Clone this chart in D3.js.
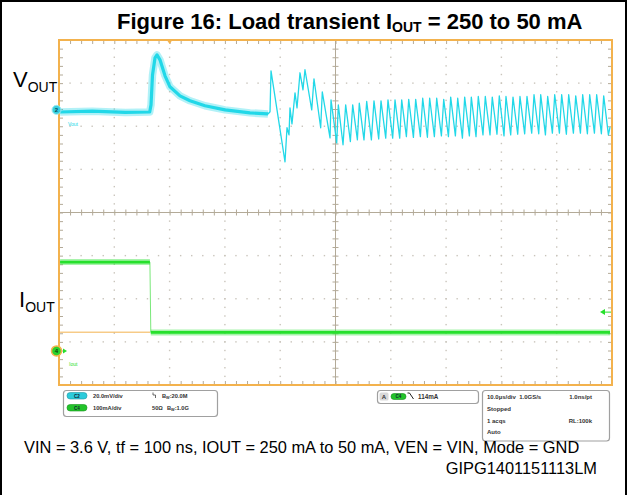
<!DOCTYPE html>
<html><head><meta charset="utf-8">
<script src="https://cdn.jsdelivr.net/npm/d3@7/dist/d3.min.js"></script>
<style>
body{margin:0;background:#fff}
svg{display:block}
text{font-family:Arial,"Liberation Sans",sans-serif}
</style>
</head><body>
<svg id="c" width="627" height="495"></svg>
<script>
// ---------------- DATA ----------------
// time axis in microseconds (trigger at 0), 10 us/div, 10 divisions
const timeRangeUs = [-20, 80];
const timeMinorStepUs = 2;
const timeMajorStepUs = 10;
// channel settings
const ch2mVperDiv = 20;      // VOUT channel
const ch2OffsetDiv = 2.38;   // marker position in divisions above centre
const ch4mAperDiv = 100;     // IOUT channel
const ch4OffsetDiv = -3.21;
const triggerLevelmA = 90;
const refLevelmA = 43.5;
const refLineTimes = [-19.8, -3.54];

// VOUT (mV, relative to channel marker) – noisy part before ringing
const voutSettled = [
  [-19.8,-1.0],[-14,-0.6],[-8,-1.2],[-3.6,-1.0],
  [-3.36,2.3],[-3.09,16.2],[-2.64,24.1],[-2.28,25.5],[-1.74,23.2],[-0.83,15.8],
  [0.07,10.7],[1.88,6.5],[3.69,4.2],[6.40,1.9],[10.02,0.0],[14.54,-1.4],[17.79,-1.9]
];
// VOUT ringing onset
const voutRinging = [
  [18.16,-0.9],[18.34,18.1],[20.87,-24.1],[21.23,-8.3],[21.59,-11.6],[21.77,0.9],
  [22.13,-6.5],[22.68,7.9],[23.04,0.9],[23.58,17.2],[24.12,9.3],[24.48,18.6],
  [25.70,0.0],[26.11,14.4],[27.32,-8.3],[27.61,8.3],[29.01,-13.0],[29.19,4.6],[30.22,-15.3]
];
// VOUT ripple: peaks and troughs
const ripplePeakT = [30.51,31.84,33.11,34.30,35.64,36.96,38.23,39.49,40.76,41.97,43.24,44.50,45.77,47.03,48.30,49.57,50.83,52.10,53.36,54.56,55.82,57.09,58.35,59.62,60.83,62.10,63.36,64.63,65.90,67.11,68.37,69.64,70.90,72.17,73.44,74.70,75.97,77.23,78.50];
const ripplePeakV = [2.3,2.3,2.3,3.1,3.9,4.2,4.2,4.6,4.6,4.6,4.9,4.9,5.4,5.4,5.4,4.9,5.9,5.4,5.9,5.9,6.2,6.2,5.9,6.5,6.2,5.9,6.2,6.2,7.0,7.0,6.2,7.0,7.0,7.0,6.5,7.0,7.0,7.0,6.5];
const rippleTroughT = [31.36,32.69,33.96,35.15,36.49,37.81,39.08,40.34,41.61,42.82,44.09,45.35,46.62,47.88,49.15,50.42,51.68,52.95,54.21,55.41,56.67,57.94,59.20,60.47,61.68,62.95,64.21,65.48,66.75,67.96,69.22,70.49,71.75,73.02,74.29,75.55,76.82,78.08,79.35];
const rippleTroughV = [-16.2,-14.7,-13.9,-13.9,-13.9,-13.5,-13.1,-13.1,-13.1,-12.4,-12.8,-12.4,-12.7,-12.4,-12.1,-12.4,-12.1,-13.1,-12.1,-12.4,-11.6,-11.6,-11.3,-12.1,-11.6,-11.3,-11.1,-10.8,-11.1,-11.6,-10.8,-10.8,-11.3,-10.8,-10.8,-11.1,-10.8,-11.1,-11.6];
const voutEnd = [79.64,-8.0];

// IOUT (mA)
const ioutHigh = [[-19.8,206],[-3.56,206]];
const ioutLow = [[-3.40,43],[79.64,43]];

// texts
const titleMain = "Figure 16: Load transient I";
const titleSub = "OUT";
const titleEnd = " = 250 to 50 mA";
const conditionsText = "VIN = 3.6 V, tf = 100 ns, IOUT = 250 mA to 50 mA, VEN = VIN, Mode = GND";
const codeText = "GIPG1401151113LM";
const chRows = [
  {ch:"C2", scale:"20.0mV/div", imp:"", bw:":20.0M", bwX:162, color:"#2ccbdb"},
  {ch:"C4", scale:"100mA/div", imp:"50Ω", bw:":1.0G", bwX:167, color:"#22c42a"}
];
const trigText = "114mA";
const acqRows = [
  ["10.0µs/div  1.0GS/s", "1.0ns/pt"],
  ["Stopped", ""],
  ["1 acqs", "RL:100k"],
  ["Auto", ""]
];

// ---------------- DRAW ----------------
const svg = d3.select("#c");
const plot = {l:59, r:612, t:40, b:385};
const cyan = "#22d8e8", green = "#26e02c", orange = "#f3b24d", gridC = "#b3aa98";

const x = d3.scaleLinear().domain(timeRangeUs).range([plot.l, plot.r]);
const gy = d3.scaleLinear().domain([-4, 4]).range([plot.b, plot.t]);
const vScale = d3.scaleLinear()
  .domain([(-4 - ch2OffsetDiv) * ch2mVperDiv, (4 - ch2OffsetDiv) * ch2mVperDiv])
  .range([plot.b, plot.t]);
const iScale = d3.scaleLinear()
  .domain([(-4 - ch4OffsetDiv) * ch4mAperDiv, (4 - ch4OffsetDiv) * ch4mAperDiv])
  .range([plot.b, plot.t]);

// outer frame
svg.append("path").attr("d", "M1,495V1H626V495").attr("fill", "none")
  .attr("stroke", "#000").attr("stroke-width", 2);

// title
const tt = svg.append("text").attr("x", 117).attr("y", 29)
  .attr("font-size", 22).attr("font-weight", "bold").attr("fill", "#000");
tt.append("tspan").text(titleMain);
tt.append("tspan").attr("font-size", 14).attr("dy", 3).text(titleSub);
tt.append("tspan").attr("dy", -3).text(titleEnd);

// grid
const xMinor = d3.range(timeRangeUs[0], timeRangeUs[1] + 0.001, timeMinorStepUs);
const xMajor = d3.range(timeRangeUs[0] + timeMajorStepUs, timeRangeUs[1] - 0.001, timeMajorStepUs);
const yMinor = d3.range(-4, 4.001, 0.2);
const yMajor = [-3, -2, -1, 1, 2, 3];
const tCenter = (timeRangeUs[0] + timeRangeUs[1]) / 2;
const g = svg.append("g");
const dots = [];
xMajor.filter(t => Math.abs(t - tCenter) > 0.01).forEach(t => yMinor.forEach(d => dots.push([x(t), gy(d)])));
yMajor.forEach(d => xMinor.forEach(t => dots.push([x(t), gy(d)])));
g.selectAll("rect.dot").data(dots).join("rect").attr("class", "dot")
  .attr("x", d => d[0] - 0.7).attr("y", d => d[1] - 0.7)
  .attr("width", 1.4).attr("height", 1.4).attr("fill", "#c9c4bb");

// centre lines
g.append("line").attr("x1", x(tCenter)).attr("x2", x(tCenter)).attr("y1", plot.t).attr("y2", plot.b)
  .attr("stroke", gridC).attr("stroke-width", 1);
g.append("line").attr("x1", plot.l).attr("x2", plot.r).attr("y1", gy(0)).attr("y2", gy(0))
  .attr("stroke", gridC).attr("stroke-width", 1);
function styleAxis(sel){ sel.select(".domain").remove(); sel.selectAll("line").attr("stroke", gridC); sel.selectAll("text").remove(); }
g.append("g").attr("transform", `translate(0,${gy(0) - 3})`)
  .call(d3.axisBottom(x).tickValues(xMinor).tickSize(6).tickFormat("")).call(styleAxis);
g.append("g").attr("transform", `translate(${x(tCenter) - 3},0)`)
  .call(d3.axisRight(gy).tickValues(yMinor).tickSize(6).tickFormat("")).call(styleAxis);
g.append("g").attr("transform", `translate(0,${plot.t})`)
  .call(d3.axisTop(x).tickValues(xMinor).tickSize(-4).tickFormat("")).call(styleAxis);
g.append("g").attr("transform", `translate(0,${plot.b})`)
  .call(d3.axisBottom(x).tickValues(xMinor).tickSize(-4).tickFormat("")).call(styleAxis);
g.append("g").attr("transform", `translate(${plot.l},0)`)
  .call(d3.axisLeft(gy).tickValues(yMinor).tickSize(-4).tickFormat("")).call(styleAxis);
g.append("g").attr("transform", `translate(${plot.r},0)`)
  .call(d3.axisRight(gy).tickValues(yMinor).tickSize(-4).tickFormat("")).call(styleAxis);

// clip
svg.append("clipPath").attr("id", "pc").append("rect")
  .attr("x", plot.l).attr("y", plot.t).attr("width", plot.r - plot.l).attr("height", plot.b - plot.t);
const traces = svg.append("g").attr("clip-path", "url(#pc)");

// reference (orange) level line
traces.append("line").attr("x1", x(refLineTimes[0])).attr("x2", x(refLineTimes[1]))
  .attr("y1", iScale(refLevelmA)).attr("y2", iScale(refLevelmA))
  .attr("stroke", orange).attr("stroke-width", 1);

// IOUT
const lineI = d3.line().x(d => x(d[0])).y(d => iScale(d[1]));
const ioutAll = ioutHigh.concat(ioutLow);
traces.append("path").attr("d", lineI(ioutAll)).attr("fill", "none")
  .attr("stroke", "#7ae87a").attr("stroke-width", 1);
[ioutHigh, ioutLow].forEach(seg => {
  traces.append("path").attr("d", lineI(seg)).attr("fill", "none")
    .attr("stroke", green).attr("stroke-width", 6).attr("opacity", 0.4);
  traces.append("path").attr("d", lineI(seg)).attr("fill", "none")
    .attr("stroke", green).attr("stroke-width", 2.6);
});

// VOUT
const lineV = d3.line().x(d => x(d[0])).y(d => vScale(d[1]));
const ripple = [];
ripplePeakT.forEach((t, k) => { ripple.push([t, ripplePeakV[k]]); ripple.push([rippleTroughT[k], rippleTroughV[k]]); });
const voutAll = voutSettled.concat(voutRinging, ripple, [voutEnd]);
traces.append("path").attr("d", lineV(voutSettled)).attr("fill", "none")
  .attr("stroke", cyan).attr("stroke-width", 7.5).attr("opacity", 0.35).attr("stroke-linejoin", "round");
traces.append("path").attr("d", lineV(voutSettled)).attr("fill", "none")
  .attr("stroke", cyan).attr("stroke-width", 3.2).attr("stroke-linejoin", "round");
traces.append("path").attr("d", lineV(voutAll)).attr("fill", "none")
  .attr("stroke", cyan).attr("stroke-width", 1.3).attr("stroke-linejoin", "round");

// border
svg.append("rect").attr("x", plot.l).attr("y", plot.t).attr("width", plot.r - plot.l).attr("height", plot.b - plot.t)
  .attr("fill", "none").attr("stroke", orange).attr("stroke-width", 2);

// trigger position marker (top)
svg.append("path").attr("d", d3.line()([[x(0) - 3.5, plot.t - 1], [x(0) + 3.5, plot.t - 1], [x(0), plot.t + 4]]) + "Z")
  .attr("fill", orange);
// trigger level marker (right)
const tly = iScale(triggerLevelmA);
svg.append("path").attr("d", `M${plot.r - 12},${tly}l5,-3v6z`).attr("fill", green);
svg.append("line").attr("x1", plot.r - 8).attr("x2", plot.r - 1).attr("y1", tly).attr("y2", tly)
  .attr("stroke", green).attr("stroke-width", 1);

// channel markers
const m2y = vScale(0), m4y = iScale(0);
svg.append("circle").attr("cx", 56.5).attr("cy", m2y).attr("r", 4.5).attr("fill", "#35cfe0").attr("stroke", "#9ee9f2").attr("stroke-width", 1);
svg.append("text").attr("x", 56.5).attr("y", m2y + 2).attr("text-anchor", "middle").attr("font-size", 6).attr("font-weight", "bold").attr("fill", "#0a4a55").text("2");
svg.append("circle").attr("cx", 56.5).attr("cy", m4y).attr("r", 5).attr("fill", "#2bd12b").attr("stroke", orange).attr("stroke-width", 1.5);
svg.append("text").attr("x", 56.5).attr("y", m4y + 2).attr("text-anchor", "middle").attr("font-size", 6).attr("font-weight", "bold").attr("fill", "#0b3d0b").text("4");
svg.append("path").attr("d", `M63,${m4y - 2.5}l4,2.5l-4,2.5z`).attr("fill", green);
svg.append("text").attr("x", 68).attr("y", m2y + 16).attr("font-size", 5).attr("fill", cyan).text("Vout");
svg.append("text").attr("x", 69).attr("y", m4y + 15).attr("font-size", 5).attr("fill", green).text("Iout");

// channel labels left
function chanLabel(xp, yp, main, sub){
  const t = svg.append("text").attr("x", xp).attr("y", yp).attr("font-size", 22).attr("fill", "#000");
  t.append("tspan").text(main);
  t.append("tspan").attr("font-size", 14).attr("dy", 5).text(sub);
}
chanLabel(13, 87, "V", "OUT");
chanLabel(19, 307, "I", "OUT");

// info boxes
const info = svg.append("g").attr("font-weight", "bold").attr("fill", "#333");
info.append("rect").attr("x", 63.5).attr("y", 390.5).attr("width", 154).attr("height", 26).attr("rx", 3)
  .attr("fill", "#fff").attr("stroke", "#a0a0a0").attr("stroke-width", 1.2);
chRows.forEach((r, k) => {
  const yb = 397.5 + k * 12;
  info.append("rect").attr("x", 67).attr("y", yb - 5).attr("width", 20).attr("height", 6.5).attr("rx", 3.2)
    .attr("fill", r.color).attr("stroke", d3.color(r.color).darker(0.8)).attr("stroke-width", 0.6);
  info.append("text").attr("x", 77).attr("y", yb).attr("text-anchor", "middle").attr("font-size", 4.5).attr("fill", "#123").text(r.ch);
  info.append("text").attr("x", 93).attr("y", yb + 0.5).attr("font-size", 5.7).text(r.scale);
  if (r.imp) info.append("text").attr("x", 152).attr("y", yb + 0.5).attr("font-size", 5.7).text(r.imp);
  const bw = info.append("text").attr("x", r.bwX).attr("y", yb + 0.5).attr("font-size", 5.7);
  bw.append("tspan").text("B");
  bw.append("tspan").attr("font-size", 3.8).attr("dy", 1.3).text("W");
  bw.append("tspan").attr("dy", -1.3).text(r.bw);
});
// coupling symbol
info.append("path").attr("d", "M153,392.5v2.5h2.5v3").attr("fill", "none").attr("stroke", "#444").attr("stroke-width", 0.8);

// trigger box
info.append("rect").attr("x", 377.5).attr("y", 390.5).attr("width", 101).attr("height", 13).attr("rx", 3)
  .attr("fill", "#fff").attr("stroke", "#a0a0a0").attr("stroke-width", 1.2);
info.append("rect").attr("x", 379.5).attr("y", 392.5).attr("width", 9).attr("height", 8).attr("rx", 1.5).attr("fill", "#d8d8d8");
info.append("text").attr("x", 384).attr("y", 398.8).attr("text-anchor", "middle").attr("font-size", 6).text("A");
info.append("rect").attr("x", 391).attr("y", 393.5).attr("width", 15).attr("height", 6).attr("rx", 3)
  .attr("fill", "#22c42a").attr("stroke", "#178a1c").attr("stroke-width", 0.6);
info.append("text").attr("x", 398.5).attr("y", 398).attr("text-anchor", "middle").attr("font-size", 4.5).attr("fill", "#123").text("C4");
info.append("path").attr("d", "M407.5,393h2l4,6").attr("fill", "none").attr("stroke", "#222").attr("stroke-width", 1);
info.append("text").attr("x", 418).attr("y", 398.5).attr("font-size", 6.3).text(trigText);

// acquisition box
info.append("rect").attr("x", 482.5).attr("y", 390.5).attr("width", 127).attr("height", 50.5).attr("rx", 3)
  .attr("fill", "#fff").attr("stroke", "#a0a0a0").attr("stroke-width", 1.2);
acqRows.forEach((r, k) => {
  const yb = 399 + k * 11.8;
  info.append("text").attr("x", 487).attr("y", yb).attr("font-size", 6).attr("xml:space", "preserve").text(r[0]);
  if (r[1]) info.append("text").attr("x", 592).attr("y", yb).attr("text-anchor", "end").attr("font-size", 6).text(r[1]);
});

// bottom texts
svg.append("text").attr("x", 24).attr("y", 453).attr("font-size", 16.4).attr("fill", "#000").text(conditionsText);
svg.append("text").attr("x", 597).attr("y", 474).attr("text-anchor", "end").attr("font-size", 16.4).attr("fill", "#000").text(codeText);
</script>
</body></html>
